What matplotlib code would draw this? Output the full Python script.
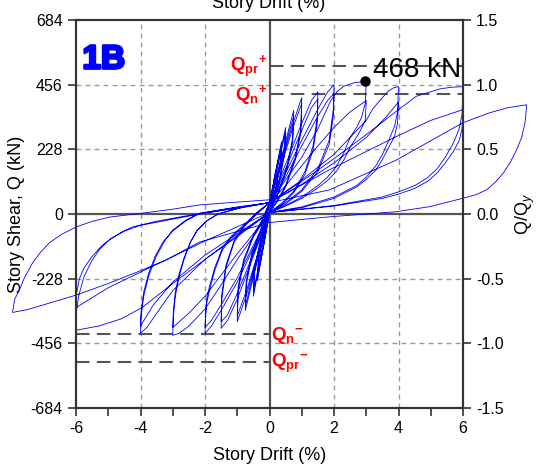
import matplotlib
matplotlib.use('Agg')
import matplotlib.pyplot as plt
import matplotlib.patheffects as pe

plt.rcParams['font.family'] = 'Liberation Sans'
plt.rcParams['mathtext.fontset'] = 'custom'
plt.rcParams['mathtext.rm'] = 'Liberation Sans'
plt.rcParams['mathtext.it'] = 'Liberation Sans:italic'
plt.rcParams['mathtext.bf'] = 'Liberation Sans:bold'

# hysteresis (drift %, shear kN)
drift_0375 = [0, 0.15, 0.375, 0.34, 0.2, 0, -0.15, -0.375, -0.34, -0.2, 0,
              0.15, 0.375, 0.34, 0.2, 0, -0.15, -0.375, -0.34, -0.2, 0]
shear_0375 = [0, 130, 255, 185, 95, 10, -90, -235, -165, -80, 40,
              125, 245, 175, 90, 5, -95, -225, -155, -75, 40]

drift_05 = [0.2, 0.5, 0.46, 0.3, 0, -0.2, -0.5, -0.46, -0.3, 0,
            0.2, 0.5, 0.46, 0.3, 0, -0.2, -0.5, -0.46, -0.3, 0]
shear_05 = [150, 305, 220, 120, 5, -110, -290, -200, -110, 40,
            140, 290, 205, 110, 5, -105, -275, -190, -100, 40]

drift_075 = [0.3, 0.6, 0.75, 0.72, 0.55, 0.3, 0, -0.3, -0.6, -0.75, -0.72, -0.55, -0.3, 0,
             0.3, 0.6, 0.75, 0.72, 0.55, 0.3, 0, -0.3, -0.6, -0.75, -0.72, -0.55, -0.3, 0]
shear_075 = [170, 300, 365, 270, 170, 85, 5, -130, -270, -340, -250, -150, -70, 40,
             160, 285, 345, 255, 160, 80, 5, -125, -255, -325, -235, -140, -65, 40]

drift_1 = [0.35, 0.7, 1.0, 0.97, 0.8, 0.5, 0.25, 0, -0.35, -0.7, -1.0, -0.97, -0.8, -0.5, -0.25, 0,
           0.35, 0.7, 1.0, 0.97, 0.8, 0.5, 0.25, 0, -0.35, -0.7, -1.0, -0.97, -0.8, -0.5, -0.25, 0]
shear_1 = [175, 310, 410, 300, 200, 100, 50, 5, -140, -280, -380, -270, -170, -80, -30, 40,
           165, 295, 390, 285, 190, 95, 45, 5, -135, -265, -360, -255, -160, -75, -25, 40]

drift_15 = [0.5, 1.0, 1.3, 1.5, 1.48, 1.35, 1.1, 0.75, 0.4, 0,
            -0.5, -1.0, -1.3, -1.5, -1.48, -1.35, -1.1, -0.75, -0.4, 0,
            0.5, 1.0, 1.3, 1.5, 1.48, 1.35, 1.1, 0.75, 0.4, 0,
            -0.5, -1.0, -1.3, -1.5, -1.48, -1.35, -1.1, -0.75, -0.4, 0]
shear_15 = [175, 320, 400, 431, 340, 240, 150, 80, 40, 5,
            -150, -300, -375, -403, -300, -190, -100, -40, 0, 40,
            160, 295, 375, 405, 320, 225, 140, 75, 35, 5,
            -140, -280, -355, -380, -285, -180, -95, -35, 5, 40]

drift_2 = [0.5, 1.0, 1.5, 1.8, 2.0, 1.98, 1.85, 1.5, 1.0, 0.5, 0,
           -0.5, -1.0, -1.5, -1.8, -2.0, -1.98, -1.94, -1.86, -1.7, -1.46, -1.2, -0.93, -0.4, 0,
           0.5, 1.0, 1.5, 1.8, 2.0, 1.98, 1.85, 1.5, 1.0, 0.5, 0,
           -0.5, -1.0, -1.5, -1.8, -2.0, -1.98, -1.94, -1.86, -1.7, -1.46, -1.2, -0.93, -0.4, 0]
shear_2 = [145, 260, 370, 430, 456, 370, 260, 160, 85, 40, 5,
           -120, -240, -340, -395, -421, -360, -310, -269, -200, -127, -85, -57, 0, 40,
           130, 240, 345, 400, 425, 345, 245, 150, 80, 35, 5,
           -110, -225, -320, -375, -400, -345, -295, -255, -190, -120, -80, -52, 3, 40]

drift_3 = [0.5, 1.0, 1.5, 1.9, 2.1, 2.3, 2.6, 3.0,
           2.98, 2.97, 2.85, 2.7, 2.5, 2.3, 2.07, 1.8, 1.5, 1.0, 0.5, 0,
           -0.5, -1.0, -1.5, -2.0, -2.5, -2.8, -3.0,
           -2.98, -2.92, -2.8, -2.65, -2.45, -2.25, -1.95, -1.6, -0.8, 0,
           0.5, 1.0, 1.5, 2.0, 2.5, 3.0,
           2.97, 2.8, 2.5, 2.3, 2.07, 1.8, 1.5, 1.0, 0.5, 0,
           -0.5, -1.0, -1.5, -2.0, -2.5, -3.0,
           -2.98, -2.92, -2.8, -2.65, -2.45, -2.25, -1.95, -1.6, -0.8, 0]
shear_3 = [120, 200, 300, 400, 432, 450, 462, 468,
           420, 390, 340, 305, 270, 215, 167, 130, 100, 60, 30, 5,
           -80, -160, -250, -335, -395, -420, -428,
           -360, -290, -220, -160, -100, -60, -25, 0, 25, 40,
           100, 170, 240, 305, 360, 400,
           330, 290, 235, 190, 150, 118, 92, 55, 28, 5,
           -70, -140, -215, -290, -350, -400,
           -340, -275, -210, -155, -98, -58, -24, 0, 25, 40]

drift_4 = [1, 2, 3, 3.2, 3.42, 3.7, 3.85, 4,
           3.97, 3.88, 3.7, 3.5, 3.3, 3.0, 2.7, 2, 1, 0,
           -1, -2, -3, -3.5, -3.8, -4,
           -3.98, -3.9, -3.75, -3.52, -3.25, -3.0, -2.6, -2.17, -1.5, -0.7, 0,
           1, 2, 3, 3.6, 4,
           3.97, 3.88, 3.7, 3.5, 3.3, 3.0, 2.7, 2, 1, 0,
           -1, -2, -3, -3.6, -4,
           -3.98, -3.9, -3.75, -3.55, -3.3, -3.0, -2.6, -2.2, -1.5, -0.7, 0]
shear_4 = [120, 210, 330, 370, 400, 435, 445, 449,
           360, 310, 260, 210, 170, 130, 100, 60, 25, 5,
           -75, -160, -270, -350, -400, -420,
           -360, -290, -220, -151, -95, -57, -22, 3, 15, 28, 40,
           105, 180, 270, 340, 395,
           320, 275, 235, 192, 155, 122, 95, 55, 22, 5,
           -70, -145, -240, -320, -395,
           -340, -275, -210, -150, -98, -60, -25, 0, 12, 25, 40]

drift_6 = [1, 2, 3, 3.93, 4.55, 5.28, 5.65, 6,
           5.97, 5.88, 5.7, 5.45, 5.2, 4.9, 4.5, 4.0, 3.5, 2, 0,
           -1, -2, -3, -3.94, -4.6, -5.3, -6,
           -5.98, -5.92, -5.75, -5.5, -5.25, -4.97, -4.6, -4.26, -3.6, -3, -2, -1, 0,
           1.86, 3.93, 5, 6,
           5.97, 5.88, 5.7, 5.45, 5.2, 4.9, 4.5, 4.0, 3.5, 2, 0,
           -1, -2, -3, -4, -5, -6,
           -5.98, -5.9, -5.75, -5.5, -5.2, -4.9, -4.5, -4.0, -3, -2, -1, 0]
shear_6 = [115, 195, 280, 362, 415, 441, 447, 449,
           350, 300, 250, 200, 160, 128, 100, 78, 60, 30, 5,
           -80, -160, -245, -329, -370, -395, -410,
           -340, -290, -220, -163, -122, -92, -65, -46, -28, -15, 5, 25, 40,
           156, 273, 330, 368,
           300, 258, 220, 180, 145, 115, 90, 70, 55, 28, 5,
           -45, -95, -150, -205, -260, -330,
           -280, -230, -190, -150, -112, -85, -60, -40, -18, 3, 22, 40]

drift_8 = [1.86, 3.93, 5, 6, 6.83, 7.4, 7.97,
           7.95, 7.92, 7.82, 7.66, 7.47, 7.25, 7.0, 6.73, 6.4, 5.98, 4.97, 3.93, 1.86, 0,
           -2.17, -3.2, -4, -5, -6, -7, -7.5, -7.97,
           -7.9, -7.76, -7.6, -7.35, -7.1, -6.83, -6.45, -6.0, -5.5, -4.97, -3.94, -3.0, -2.17, -1, 0]
shear_8 = [85, 190, 258, 322, 357, 375, 385,
           350, 321, 270, 226, 183, 144, 112, 85, 68, 55, 26, 8, -10, -30,
           -99, -162, -200, -245, -286, -320, -337, -347,
           -300, -269, -225, -173, -135, -102, -72, -46, -26, -11, 3, 17, 32, 42, 50]

peak_drift = 2.95
peak_shear = 468
q_n = 424
q_pr = 521
q_y = 456

y_ticks = [-684, -456, -228, 0, 228, 456, 684]
x_ticks = [-6, -5, -4, -3, -2, -1, 0, 1, 2, 3, 4, 5, 6]
x_labels = ['-6', '', '-4', '', '-2', '', '0', '', '2', '', '4', '', '6']
r_ticks = [-1.5, -1.0, -0.5, 0.0, 0.5, 1.0, 1.5]

drift = (drift_0375 + drift_05 + drift_075 + drift_1 + drift_15 + drift_2
         + drift_3 + drift_4 + drift_6 + drift_8)
shear = (shear_0375 + shear_05 + shear_075 + shear_1 + shear_15 + shear_2
         + shear_3 + shear_4 + shear_6 + shear_8)

fig = plt.figure(figsize=(5.39, 4.70), dpi=100)
ax = fig.add_axes([76/539, 1-408/470, 387/539, 388/470])

for gx in [-4, -2, 2, 4]:
    ax.axvline(gx, color='#999999', lw=1, ls=(0, (3.5, 3)), zorder=1)
for gy in [-456, -228, 228, 456]:
    ax.axhline(gy, color='#999999', lw=1, ls=(0, (3.5, 3)), zorder=1)
ax.axhline(0, color='#555555', lw=1.6, zorder=2)
ax.axvline(0, color='#555555', lw=1.6, zorder=2)

# nominal / probable strength lines
ax.plot([0, 6], [q_pr, q_pr], color='#555555', lw=1.5, ls=(0, (6.5, 3.5)), zorder=2, clip_on=False)
ax.plot([0, 6], [q_n, q_n], color='#555555', lw=1.5, ls=(0, (6.5, 3.5)), zorder=2, clip_on=False)
ax.plot([-6, 0], [-q_n, -q_n], color='#555555', lw=1.5, ls=(0, (6.5, 3.5)), zorder=2, clip_on=False)
ax.plot([-6, 0], [-q_pr, -q_pr], color='#555555', lw=1.5, ls=(0, (6.5, 3.5)), zorder=2, clip_on=False)

ax.plot(drift, shear, color='#0000ff', lw=0.6, zorder=3, clip_on=False)
ax.plot(peak_drift, peak_shear, 'o', color='black', ms=6.5, zorder=5)
ax.text(3.2, 484, '468 kN', fontsize=20, ha='left', va='baseline', zorder=6)

ax.text(-5.8, 513, '1B', fontsize=24, fontweight='bold', color='#0000ff', va='baseline',
        path_effects=[pe.withStroke(linewidth=2, foreground='#0000ff')])

red = '#ff0000'
ax.text(-0.06, 520, r'$\mathbf{Q}_{\mathbf{pr}}{}^{\mathbf{+}}$', color=red, fontsize=13.5, ha='right', va='center')
ax.text(-0.06, 418, r'$\mathbf{Q}_{\mathbf{n}}{}^{\mathbf{+}}$', color=red, fontsize=13.5, ha='right', va='center')
ax.text(0.06, -428, r'$\mathbf{Q}_{\mathbf{n}}{}^{\mathbf{-}}$', color=red, fontsize=13.5, ha='left', va='center')
ax.text(0.06, -525, r'$\mathbf{Q}_{\mathbf{pr}}{}^{\mathbf{-}}$', color=red, fontsize=13.5, ha='left', va='center')

ax.set_xlim(-6, 6)
ax.set_ylim(-684, 684)
ax.set_xticks(x_ticks)
ax.set_xticklabels(x_labels)
ax.set_yticks(y_ticks)
ax.set_yticklabels([str(v) for v in y_ticks])
ax.tick_params(direction='out', length=6, width=1.2, labelsize=11.5, color='#333333')
ax.set_xlabel('Story Drift (%)', fontsize=13, labelpad=8)
ax.set_ylabel('Story Shear, Q (kN)', fontsize=13, labelpad=4)
for s in ax.spines.values():
    s.set_linewidth(1.5)
    s.set_color('#333333')

ax2 = ax.twinx()
ax2.set_ylim(-684/q_y, 684/q_y)
ax2.set_yticks(r_ticks)
ax2.set_yticklabels(['%.1f' % v for v in r_ticks])
ax2.tick_params(direction='out', length=6, width=1.2, labelsize=11.5, color='#333333')
ax2.set_ylabel('Q/Q$_y$', fontsize=13, labelpad=7)
for s in ax2.spines.values():
    s.set_linewidth(1.5)
    s.set_color('#333333')

fig.text(269/539, 1-8/470, 'Story Drift (%)', fontsize=13, ha='center', va='baseline')

fig.savefig('out.png', dpi=100)
